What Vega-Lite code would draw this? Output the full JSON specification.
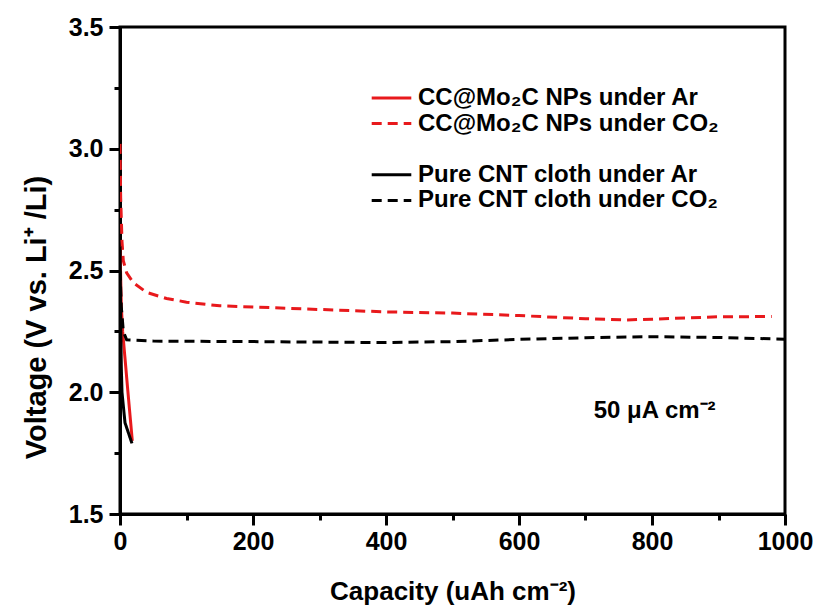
{
  "$schema": "https://vega.github.io/schema/vega-lite/v6.json",
  "width": 665,
  "height": 487,
  "autosize": {"type": "none"},
  "padding": {"left": 120, "top": 27, "right": 32, "bottom": 96},
  "background": "white",
  "config": {
    "font": "Liberation Sans",
    "view": {"stroke": "black", "strokeWidth": 3},
    "axis": {
      "domainColor": "black", "domainWidth": 3,
      "tickColor": "black", "tickWidth": 3,
      "labelFont": "Liberation Sans", "labelFontWeight": "bold", "labelFontSize": 25, "labelColor": "black",
      "titleFont": "Liberation Sans", "titleFontWeight": "bold", "titleColor": "black",
      "grid": false
    },
    "legend": {
      "labelFont": "Liberation Sans", "labelFontWeight": "bold", "labelFontSize": 24, "labelColor": "black",
      "labelLimit": 0, "symbolStrokeWidth": 3, "padding": 0
    }
  },
  "datasets": {
    "curves": [
      {"series": "CC@Mo₂C NPs under Ar", "cap": 0, "v": 2.6},
      {"series": "CC@Mo₂C NPs under Ar", "cap": 2, "v": 2.35},
      {"series": "CC@Mo₂C NPs under Ar", "cap": 4, "v": 2.25},
      {"series": "CC@Mo₂C NPs under Ar", "cap": 11, "v": 2.03},
      {"series": "CC@Mo₂C NPs under Ar", "cap": 18.5, "v": 1.8},

      {"series": "CC@Mo₂C NPs under CO₂", "cap": 0, "v": 3.02},
      {"series": "CC@Mo₂C NPs under CO₂", "cap": 1, "v": 2.8},
      {"series": "CC@Mo₂C NPs under CO₂", "cap": 3, "v": 2.62},
      {"series": "CC@Mo₂C NPs under CO₂", "cap": 5, "v": 2.54},
      {"series": "CC@Mo₂C NPs under CO₂", "cap": 10, "v": 2.49},
      {"series": "CC@Mo₂C NPs under CO₂", "cap": 20, "v": 2.45},
      {"series": "CC@Mo₂C NPs under CO₂", "cap": 40, "v": 2.41},
      {"series": "CC@Mo₂C NPs under CO₂", "cap": 70, "v": 2.385},
      {"series": "CC@Mo₂C NPs under CO₂", "cap": 100, "v": 2.37},
      {"series": "CC@Mo₂C NPs under CO₂", "cap": 150, "v": 2.355},
      {"series": "CC@Mo₂C NPs under CO₂", "cap": 200, "v": 2.35},
      {"series": "CC@Mo₂C NPs under CO₂", "cap": 300, "v": 2.34},
      {"series": "CC@Mo₂C NPs under CO₂", "cap": 400, "v": 2.33},
      {"series": "CC@Mo₂C NPs under CO₂", "cap": 500, "v": 2.325},
      {"series": "CC@Mo₂C NPs under CO₂", "cap": 600, "v": 2.315},
      {"series": "CC@Mo₂C NPs under CO₂", "cap": 700, "v": 2.302},
      {"series": "CC@Mo₂C NPs under CO₂", "cap": 760, "v": 2.297},
      {"series": "CC@Mo₂C NPs under CO₂", "cap": 800, "v": 2.3},
      {"series": "CC@Mo₂C NPs under CO₂", "cap": 850, "v": 2.305},
      {"series": "CC@Mo₂C NPs under CO₂", "cap": 900, "v": 2.31},
      {"series": "CC@Mo₂C NPs under CO₂", "cap": 980, "v": 2.311},

      {"series": "Pure CNT cloth under Ar", "cap": 0, "v": 2.6},
      {"series": "Pure CNT cloth under Ar", "cap": 1, "v": 2.3},
      {"series": "Pure CNT cloth under Ar", "cap": 2, "v": 2.1},
      {"series": "Pure CNT cloth under Ar", "cap": 3, "v": 2.0},
      {"series": "Pure CNT cloth under Ar", "cap": 7.5, "v": 1.875},
      {"series": "Pure CNT cloth under Ar", "cap": 18, "v": 1.79},

      {"series": "Pure CNT cloth under CO₂", "cap": 0, "v": 2.5},
      {"series": "Pure CNT cloth under CO₂", "cap": 2, "v": 2.35},
      {"series": "Pure CNT cloth under CO₂", "cap": 5, "v": 2.25},
      {"series": "Pure CNT cloth under CO₂", "cap": 10, "v": 2.215},
      {"series": "Pure CNT cloth under CO₂", "cap": 50, "v": 2.21},
      {"series": "Pure CNT cloth under CO₂", "cap": 200, "v": 2.208},
      {"series": "Pure CNT cloth under CO₂", "cap": 400, "v": 2.204},
      {"series": "Pure CNT cloth under CO₂", "cap": 500, "v": 2.208},
      {"series": "Pure CNT cloth under CO₂", "cap": 600, "v": 2.217},
      {"series": "Pure CNT cloth under CO₂", "cap": 700, "v": 2.224},
      {"series": "Pure CNT cloth under CO₂", "cap": 800, "v": 2.228},
      {"series": "Pure CNT cloth under CO₂", "cap": 900, "v": 2.225},
      {"series": "Pure CNT cloth under CO₂", "cap": 1000, "v": 2.218}
    ]
  },
  "layer": [
    {
      "data": {"name": "curves"},
      "mark": {"type": "line", "strokeWidth": 3, "clip": true},
      "encoding": {
        "x": {
          "field": "cap", "type": "quantitative",
          "scale": {"domain": [0, 1000], "nice": false, "zero": false},
          "axis": {
            "title": "Capacity (uAh cm⁻²)",
            "titleFontSize": 26,
            "values": [0, 100, 200, 300, 400, 500, 600, 700, 800, 900, 1000],
            "format": "d",
            "labelExpr": "datum.value % 200 === 0 ? datum.label : ''",
            "tickSize": {"condition": {"test": "datum.value % 200 === 0", "value": 11}, "value": 6},
            "labelPadding": 4,
            "titlePadding": 24,
            "labelFlush": false
          }
        },
        "y": {
          "field": "v", "type": "quantitative",
          "scale": {"domain": [1.5, 3.5], "nice": false, "zero": false},
          "axis": {
            "title": "Voltage (V vs. Li⁺ /Li)",
            "titleFontSize": 29,
            "titleX": -69,
            "titleY": 290,
            "titleAngle": -90,
            "titleAlign": "center",
            "titleBaseline": "bottom",
            "values": [1.5, 1.75, 2.0, 2.25, 2.5, 2.75, 3.0, 3.25, 3.5],
            "format": ".1f",
            "labelExpr": "(round(datum.value * 100) % 50 === 0) ? datum.label : ''",
            "tickSize": {"condition": {"test": "round(datum.value * 100) % 50 === 0", "value": 11}, "value": 6},
            "labelPadding": 6,
            "labelFlush": false
          }
        },
        "color": {
          "field": "series", "type": "nominal",
          "scale": {
            "domain": ["CC@Mo₂C NPs under Ar", "CC@Mo₂C NPs under CO₂", " ", "Pure CNT cloth under Ar", "Pure CNT cloth under CO₂"],
            "range": ["#e8191c", "#e8191c", "transparent", "#000000", "#000000"]
          },
          "legend": {
            "title": null, "orient": "none", "legendX": 259, "legendY": 58.5, "direction": "vertical",
            "symbolType": "M-1.8,0H1.8", "symbolSize": 484, "symbolStrokeWidth": 3,
            "symbolFillColor": "transparent", "labelOffset": 14, "rowPadding": 0.6
          }
        },
        "strokeDash": {
          "field": "series", "type": "nominal",
          "scale": {
            "domain": ["CC@Mo₂C NPs under Ar", "CC@Mo₂C NPs under CO₂", " ", "Pure CNT cloth under Ar", "Pure CNT cloth under CO₂"],
            "range": [[1, 0], [10, 6], [1, 0], [1, 0], [10, 6]]
          },
          "legend": {
            "title": null, "orient": "none", "legendX": 259, "legendY": 58.5, "direction": "vertical",
            "symbolType": "M-1.8,0H1.8", "symbolSize": 484, "symbolStrokeWidth": 3,
            "symbolFillColor": "transparent", "labelOffset": 14, "rowPadding": 0.6
          }
        }
      }
    },
    {
      "data": {"values": [{"note": "50 μA cm⁻²"}]},
      "mark": {"type": "text", "font": "Liberation Sans", "fontWeight": "bold", "fontSize": 24, "color": "black", "align": "center", "baseline": "middle"},
      "encoding": {
        "x": {"datum": 804, "type": "quantitative"},
        "y": {"datum": 1.923, "type": "quantitative"},
        "text": {"field": "note"}
      }
    }
  ]
}
